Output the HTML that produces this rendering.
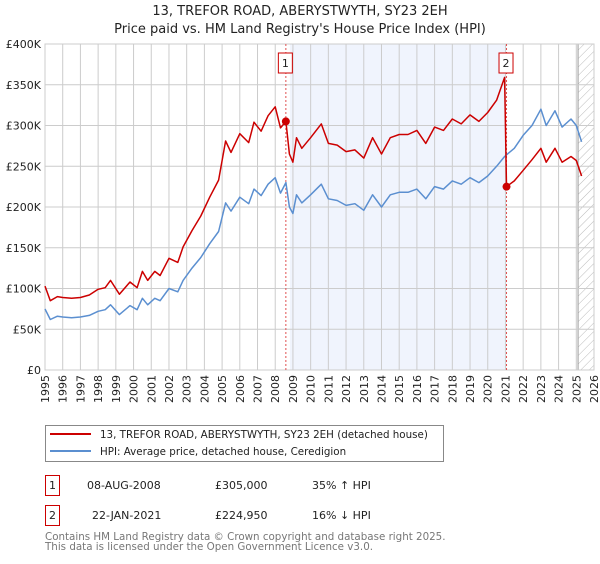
<!DOCTYPE html>
<html><head><meta charset="utf-8"><style>
body{margin:0;background:#fff;font-family:"DejaVu Sans","Liberation Sans",sans-serif;}
svg text{font-family:"DejaVu Sans","Liberation Sans",sans-serif;}
</style></head><body>
<svg id="c" width="600" height="560" xmlns="http://www.w3.org/2000/svg">
<defs><pattern id="hatch" width="6" height="6" patternUnits="userSpaceOnUse" patternTransform="rotate(45)"><line x1="0" y1="0" x2="0" y2="6" stroke="#bbb" stroke-width="1"/></pattern></defs>
<text x="300" y="15" text-anchor="middle" font-size="13" fill="#222">13, TREFOR ROAD, ABERYSTWYTH, SY23 2EH</text>
<text x="300" y="33" text-anchor="middle" font-size="13" fill="#222">Price paid vs. HM Land Registry's House Price Index (HPI)</text>
<g id="plot"></g>
<g>
<rect x="45.5" y="425.5" width="398" height="36" fill="#fff" stroke="#888"/>
<line x1="50" y1="434" x2="91" y2="434" stroke="#cc0000" stroke-width="2"/>
<text x="100" y="438" font-size="10.3" fill="#222">13, TREFOR ROAD, ABERYSTWYTH, SY23 2EH (detached house)</text>
<line x1="50" y1="451" x2="91" y2="451" stroke="#5b8fd0" stroke-width="2"/>
<text x="100" y="455" font-size="10.3" fill="#222">HPI: Average price, detached house, Ceredigion</text>
</g>
<g font-size="11" fill="#222">
<rect x="45.5" y="475.5" width="14" height="20" fill="#fff" stroke="#cc0000"/>
<text x="52.5" y="489" text-anchor="middle">1</text>
<text x="87" y="489">08-AUG-2008</text><text x="215" y="489">£305,000</text><text x="312" y="489">35% ↑ HPI</text>
<rect x="45.5" y="505.5" width="14" height="20" fill="#fff" stroke="#cc0000"/>
<text x="52.5" y="519" text-anchor="middle">2</text>
<text x="92" y="519">22-JAN-2021</text><text x="215" y="519">£224,950</text><text x="312" y="519">16% ↓ HPI</text>
</g>
<text x="45" y="540" font-size="10.3" fill="#777">Contains HM Land Registry data © Crown copyright and database right 2025.</text>
<text x="45" y="550" font-size="10.3" fill="#777">This data is licensed under the Open Government Licence v3.0.</text>
</svg>
<script>
const dates=[1995.0,1995.3,1995.7,1996.0,1996.5,1997.0,1997.5,1998.0,1998.4,1998.7,1999.2,1999.8,2000.2,2000.5,2000.8,2001.2,2001.5,2002.0,2002.5,2002.8,2003.3,2003.8,2004.3,2004.8,2005.2,2005.5,2006.0,2006.5,2006.8,2007.2,2007.6,2008.0,2008.3,2008.6,2008.8,2009.0,2009.2,2009.5,2010.0,2010.6,2011.0,2011.5,2012.0,2012.5,2013.0,2013.5,2014.0,2014.5,2015.0,2015.5,2016.0,2016.5,2017.0,2017.5,2018.0,2018.5,2019.0,2019.5,2020.0,2020.5,2020.95,2021.06,2021.5,2022.0,2022.5,2023.0,2023.3,2023.8,2024.2,2024.7,2025.0,2025.3];
const hpi=[75,62,66,65,64,65,67,72,74,80,68,79,74,88,80,88,85,100,96,110,125,138,155,170,205,195,212,204,222,214,228,236,217,230,200,192,215,205,215,228,210,208,202,204,196,215,200,215,218,218,222,210,225,222,232,228,236,230,238,250,262,264,272,288,300,320,300,318,298,308,300,280];
const price=[103,85,90,89,88,89,92,99,101,110,93,108,101,121,110,121,116,137,132,151,171,189,212,233,281,267,290,279,304,293,312,323,297,305,265,255,285,272,285,302,278,276,268,270,260,285,265,285,289,289,294,278,298,294,308,302,313,305,316,331,359,225,232,245,258,272,255,272,255,262,257,238];
const yTicks=[0,50,100,150,200,250,300,350,400];
const yLabels=["£0","£50K","£100K","£150K","£200K","£250K","£300K","£350K","£400K"];
const years=[1995,1996,1997,1998,1999,2000,2001,2002,2003,2004,2005,2006,2007,2008,2009,2010,2011,2012,2013,2014,2015,2016,2017,2018,2019,2020,2021,2022,2023,2024,2025,2026];
const saleDates=[2008.6,2021.06];
const salePrices=[305,224.95];
const L=45,R=594,T=44,B=370;
const x=d=>L+(d-1995)/(2026-1995)*(R-L);
const y=v=>B-v/400*(B-T);
const ns="http://www.w3.org/2000/svg";
const g=document.getElementById('plot');
function mk(t,a,p){const e=document.createElementNS(ns,t);for(const k in a)e.setAttribute(k,a[k]);(p||g).appendChild(e);return e;}
let e;
e=mk('rect',{x:L,y:T,width:R-L,height:B-T,fill:'#fff'});
e=mk('rect',{x:x(saleDates[0])+4,y:T,width:x(saleDates[1])-x(saleDates[0])-4,height:B-T,fill:'#f0f4fd'});


e=mk('rect',{x:x(2025.1),y:T,width:R-x(2025.1),height:B-T,fill:'url(#hatch)'});


mk('line',{x1:x(2025.1),y1:T,x2:x(2025.1),y2:B,stroke:'#999','stroke-width':1});
years.forEach(yr=>{const xx=x(yr);mk('line',{x1:xx,y1:T,x2:xx,y2:B,stroke:'#ccc','stroke-width':1});
 const t=mk('text',{x:0,y:0,'font-size':11,fill:'#222','text-anchor':'end',transform:`translate(${xx+4},${B+5}) rotate(-90)`});t.textContent=yr;
 
 });
yTicks.forEach((v,i)=>{const yy=y(v);mk('line',{x1:L,y1:yy,x2:R,y2:yy,stroke:'#ccc','stroke-width':1});
 const t=mk('text',{x:L-4,y:yy+4,'font-size':11,fill:'#222','text-anchor':'end'});t.textContent=yLabels[i];
 
 });
mk('rect',{x:L,y:T,width:R-L,height:B-T,fill:'none',stroke:'#ccc'});
saleDates.forEach((d,i)=>{const xx=x(d);mk('line',{x1:xx,y1:T,x2:xx,y2:B,stroke:'#e05050','stroke-width':1,'stroke-dasharray':'2,2'});
 const r=mk('rect',{x:xx-7.5,y:T+9,width:14,height:20,fill:'#fff',stroke:'#cc0000'});
 
 
 const t=mk('text',{x:xx-0.5,y:T+23,'font-size':11,fill:'#222','text-anchor':'middle'});t.textContent=i+1;});
function line(arr,color,name){const pts=dates.map((d,i)=>x(d).toFixed(1)+','+y(arr[i]).toFixed(1)).join(' ');
 const p=mk('polyline',{points:pts,fill:'none',stroke:color,'stroke-width':1.5,'stroke-linejoin':'round'});
 
 }
line(hpi,'#5b8fd0','hpi-line');
line(price,'#cc0000','price-paid-line');
saleDates.forEach((d,i)=>{const c=mk('circle',{cx:x(d),cy:y(salePrices[i]),r:4,fill:'#cc0000'});
 
 });
</script>
</body></html>
